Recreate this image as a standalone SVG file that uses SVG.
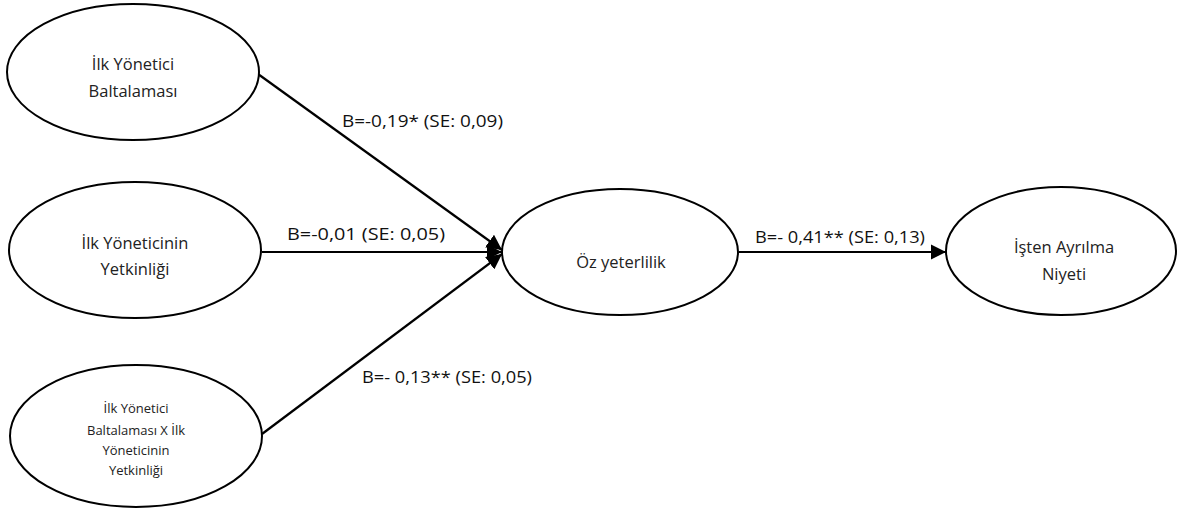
<svg xmlns="http://www.w3.org/2000/svg" width="1177" height="512" viewBox="0 0 1177 512">
<defs>
<style>
.n{fill:#fff;stroke:#000;stroke-width:2}
.t{font-family:"Open Sans","Liberation Sans",sans-serif;font-size:16.5px;fill:#222;text-anchor:middle}
.s{font-size:13px}
.l{font-family:"Open Sans","Liberation Sans",sans-serif;font-size:16px;fill:#111}
.c{stroke:#000;stroke-width:2.2;fill:none}
</style>
<marker id="ah" viewBox="0 0 10 10" refX="10" refY="5" markerWidth="7" markerHeight="7" markerUnits="strokeWidth" orient="auto">
<path d="M0,0 L10,5 L0,10 z" fill="#000"/>
</marker>
</defs>
<g id="connectors">
<line class="c" x1="258" y1="74" x2="502" y2="250" marker-end="url(#ah)"/>
<line class="c" x1="262" y1="252" x2="502" y2="252" marker-end="url(#ah)"/>
<line class="c" x1="262" y1="434" x2="502" y2="254" marker-end="url(#ah)"/>
<line class="c" x1="739" y1="252" x2="946" y2="252" marker-end="url(#ah)"/>
<text class="l" x="342" y="127" textLength="161" lengthAdjust="spacingAndGlyphs">B=-0,19* (SE: 0,09)</text>
<text class="l" x="287" y="240" textLength="158" lengthAdjust="spacingAndGlyphs">B=-0,01 (SE: 0,05)</text>
<text class="l" x="362" y="383" textLength="170" lengthAdjust="spacingAndGlyphs">B=- 0,13** (SE: 0,05)</text>
<text class="l" x="755" y="243" textLength="170" lengthAdjust="spacingAndGlyphs">B=- 0,41** (SE: 0,13)</text>
</g>
<g id="node1">
<ellipse class="n" cx="133" cy="72" rx="126" ry="68"/>
<text class="t" x="133" y="70">İlk Yönetici</text>
<text class="t" x="133" y="97">Baltalaması</text>
</g>
<g id="node2">
<ellipse class="n" cx="135" cy="250" rx="126" ry="68"/>
<text class="t" x="135" y="249">İlk Yöneticinin</text>
<text class="t" x="135" y="275">Yetkinliği</text>
</g>
<g id="node3">
<ellipse class="n" cx="136" cy="436" rx="126" ry="71"/>
<text class="t s" x="136" y="413">İlk Yönetici</text>
<text class="t s" x="136" y="435">Baltalaması X İlk</text>
<text class="t s" x="136" y="455">Yöneticinin</text>
<text class="t s" x="136" y="475">Yetkinliği</text>
</g>
<g id="node4">
<ellipse class="n" cx="620" cy="252" rx="118" ry="63"/>
<text class="t" x="621" y="268">Öz yeterlilik</text>
</g>
<g id="node5">
<ellipse class="n" cx="1061" cy="251" rx="115" ry="64"/>
<text class="t" x="1064" y="253">İşten Ayrılma</text>
<text class="t" x="1064" y="280">Niyeti</text>
</g>
</svg>
